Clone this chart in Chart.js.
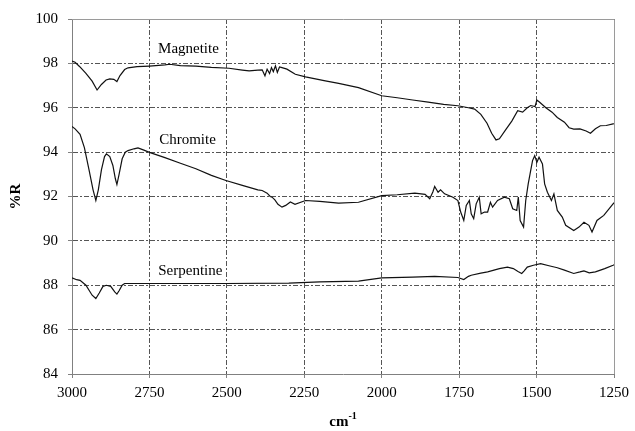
<!DOCTYPE html>
<html>
<head>
<meta charset="utf-8">
<script src="https://cdn.jsdelivr.net/npm/chart.js@4/dist/chart.umd.min.js"></script>
<style>
  html, body { margin: 0; padding: 0; background: #fff; }
  #wrap { width: 635px; height: 431px; position: relative; }
</style>
</head>
<body>
<div id="wrap"><canvas id="spectra"></canvas></div>
<script>
// Spectra (wavenumber in cm-1, reflectance in %R)
const magWn = [3000, 2990, 2975, 2955, 2935, 2919, 2905, 2890, 2878, 2865, 2855, 2845, 2830, 2819, 2790, 2750, 2700, 2685, 2650, 2600, 2550, 2493, 2450, 2428, 2400, 2386, 2377, 2370, 2362, 2356, 2350, 2343, 2337, 2330, 2322, 2306, 2279, 2246, 2182, 2139, 2075, 2000, 1950, 1900, 1850, 1800, 1754, 1720, 1700, 1680, 1660, 1645, 1631, 1620, 1600, 1580, 1561, 1545, 1530, 1519, 1505, 1499, 1490, 1470, 1450, 1433, 1410, 1395, 1380, 1360, 1340, 1326, 1310, 1294, 1275, 1253, 1250];
const magR = [98.1, 98.05, 97.85, 97.55, 97.2, 96.8, 97.05, 97.25, 97.3, 97.28, 97.18, 97.45, 97.72, 97.8, 97.85, 97.88, 97.93, 97.96, 97.9, 97.88, 97.82, 97.78, 97.7, 97.66, 97.7, 97.71, 97.44, 97.74, 97.54, 97.81, 97.63, 97.89, 97.59, 97.84, 97.81, 97.74, 97.51, 97.39, 97.21, 97.1, 96.91, 96.54, 96.45, 96.35, 96.25, 96.15, 96.09, 96.0, 95.94, 95.7, 95.3, 94.85, 94.55, 94.6, 95.0, 95.4, 95.87, 95.8, 96.0, 96.1, 96.05, 96.35, 96.25, 96.0, 95.8, 95.56, 95.35, 95.1, 95.04, 95.05, 94.95, 94.85, 95.05, 95.19, 95.2, 95.27, 95.28];

const chrWn = [3000, 2990, 2974, 2960, 2945, 2932, 2923, 2915, 2905, 2895, 2889, 2878, 2868, 2860, 2855, 2848, 2838, 2828, 2819, 2800, 2787, 2770, 2750, 2700, 2650, 2600, 2550, 2503, 2450, 2400, 2386, 2370, 2360, 2354, 2345, 2335, 2322, 2310, 2295, 2280, 2246, 2200, 2139, 2075, 2000, 1950, 1893, 1860, 1845, 1835, 1829, 1818, 1810, 1797, 1770, 1754, 1745, 1735, 1727, 1717, 1711, 1703, 1695, 1685, 1679, 1668, 1658, 1649, 1642, 1626, 1604, 1588, 1577, 1564, 1559, 1553, 1542, 1535, 1527, 1521, 1513, 1506, 1499, 1492, 1481, 1474, 1465, 1452, 1444, 1433, 1417, 1406, 1380, 1363, 1347, 1331, 1321, 1305, 1283, 1253, 1250];
const chrR = [95.15, 95.05, 94.8, 94.2, 93.2, 92.3, 91.82, 92.3, 93.2, 93.8, 93.92, 93.8, 93.4, 92.8, 92.54, 93.0, 93.7, 94.0, 94.07, 94.15, 94.19, 94.1, 93.99, 93.75, 93.5, 93.25, 92.95, 92.72, 92.5, 92.3, 92.27, 92.15, 92.0, 91.97, 91.85, 91.65, 91.52, 91.6, 91.75, 91.65, 91.82, 91.78, 91.7, 91.74, 92.04, 92.08, 92.15, 92.1, 91.9, 92.2, 92.45, 92.19, 92.3, 92.12, 91.97, 91.82, 91.3, 90.92, 91.6, 91.82, 91.22, 91.0, 91.67, 91.97, 91.22, 91.3, 91.3, 91.74, 91.52, 91.82, 91.97, 91.9, 91.45, 91.37, 91.97, 90.92, 90.62, 91.82, 92.57, 93.02, 93.62, 93.84, 93.54, 93.77, 93.47, 92.57, 92.19, 91.82, 92.12, 91.37, 91.07, 90.7, 90.47, 90.62, 90.84, 90.7, 90.4, 90.92, 91.15, 91.67, 91.72];

const serWn = [3000, 2985, 2974, 2955, 2935, 2923, 2912, 2900, 2889, 2875, 2862, 2855, 2848, 2838, 2830, 2750, 2600, 2503, 2300, 2200, 2075, 2000, 1900, 1829, 1754, 1735, 1720, 1711, 1680, 1658, 1620, 1594, 1575, 1560, 1548, 1540, 1530, 1510, 1487, 1460, 1433, 1410, 1380, 1360, 1347, 1330, 1310, 1280, 1253, 1250];
const serR = [88.33, 88.25, 88.22, 88.0, 87.55, 87.4, 87.65, 87.95, 88.0, 87.95, 87.7, 87.6, 87.75, 88.0, 88.08, 88.08, 88.08, 88.08, 88.1, 88.15, 88.19, 88.33, 88.37, 88.4, 88.35, 88.26, 88.4, 88.45, 88.55, 88.6, 88.75, 88.82, 88.75, 88.62, 88.53, 88.65, 88.82, 88.9, 88.97, 88.88, 88.79, 88.68, 88.53, 88.6, 88.65, 88.56, 88.6, 88.75, 88.9, 88.92];

// Curve names and where they are written (wavenumber, %R)
const seriesNames = ['Magnetite', 'Chromite', 'Serpentine'];
const nameWn = [2624, 2627, 2618];
const nameR = [98.65, 94.56, 88.63];

const serif = "'Liberation Serif', 'Times New Roman', serif";

function toPoints(wn, r) {
  return wn.map((x, i) => ({ x, y: r[i] }));
}

// Frame, curve names and the x title with its superscript
const extrasPlugin = {
  id: 'extras',
  afterDraw(chart) {
    const { ctx, chartArea, scales } = chart;
    ctx.save();
    ctx.strokeStyle = '#9a9a9a';
    ctx.lineWidth = 1;
    ctx.beginPath();
    ctx.moveTo(chartArea.left, chartArea.top + 0.5);
    ctx.lineTo(chartArea.right + 0.5, chartArea.top + 0.5);
    ctx.lineTo(chartArea.right + 0.5, chartArea.bottom);
    ctx.stroke();

    ctx.fillStyle = '#000';
    ctx.font = '15px ' + serif;
    ctx.textAlign = 'center';
    ctx.textBaseline = 'middle';
    seriesNames.forEach((name, i) => {
      ctx.fillText(name, scales.x.getPixelForValue(nameWn[i]), scales.y.getPixelForValue(nameR[i]));
    });

    const cx = (chartArea.left + chartArea.right) / 2;
    ctx.font = 'bold 15px ' + serif;
    ctx.textAlign = 'left';
    ctx.textBaseline = 'alphabetic';
    const w1 = ctx.measureText('cm').width;
    ctx.font = 'bold 10px ' + serif;
    const w2 = ctx.measureText('-1').width;
    const x0 = cx - (w1 + w2) / 2;
    ctx.font = 'bold 15px ' + serif;
    ctx.fillText('cm', x0, 426);
    ctx.font = 'bold 10px ' + serif;
    ctx.fillText('-1', x0 + w1, 419);
    ctx.restore();
  }
};

new Chart(document.getElementById('spectra'), {
  type: 'line',
  data: {
    datasets: [
      { label: seriesNames[0], data: toPoints(magWn, magR) },
      { label: seriesNames[1], data: toPoints(chrWn, chrR) },
      { label: seriesNames[2], data: toPoints(serWn, serR) }
    ].map(d => Object.assign(d, {
      borderColor: '#111',
      borderWidth: 1.2,
      pointRadius: 0,
      tension: 0,
      fill: false
    }))
  },
  options: {
    responsive: true,
    maintainAspectRatio: false,
    animation: false,
    layout: { padding: { top: 18, right: 18, left: 0, bottom: 0 } },
    plugins: {
      legend: { display: false },
      tooltip: { enabled: false }
    },
    scales: {
      x: {
        type: 'linear',
        reverse: true,
        min: 1250,
        max: 3000,
        afterFit(scale) { scale.height = 57; },
        ticks: {
          stepSize: 250,
          color: '#000',
          font: { family: serif, size: 15 },
          padding: 6,
          maxRotation: 0,
          autoSkip: false,
          callback: v => String(v)
        },
        grid: {
          color: '#555',
          lineWidth: 1,
          tickLength: 4,
          tickColor: '#808080',
          tickBorderDash: []
        },
        border: { color: '#808080', width: 1, dash: [5, 2, 2, 2] }
      },
      y: {
        min: 84,
        max: 100,
        afterFit(scale) { scale.width = 72; },
        ticks: {
          stepSize: 2,
          color: '#000',
          font: { family: serif, size: 15 },
          padding: 10
        },
        grid: {
          color: '#555',
          lineWidth: 1,
          tickLength: 4,
          tickColor: '#808080',
          tickBorderDash: []
        },
        border: { color: '#808080', width: 1, dash: [5, 2, 2, 2] },
        title: {
          display: true,
          text: '%R',
          color: '#000',
          font: { family: serif, size: 15, weight: 'bold' },
          padding: { top: 7, bottom: 0 }
        }
      }
    }
  },
  plugins: [extrasPlugin]
});
</script>
</body>
</html>
